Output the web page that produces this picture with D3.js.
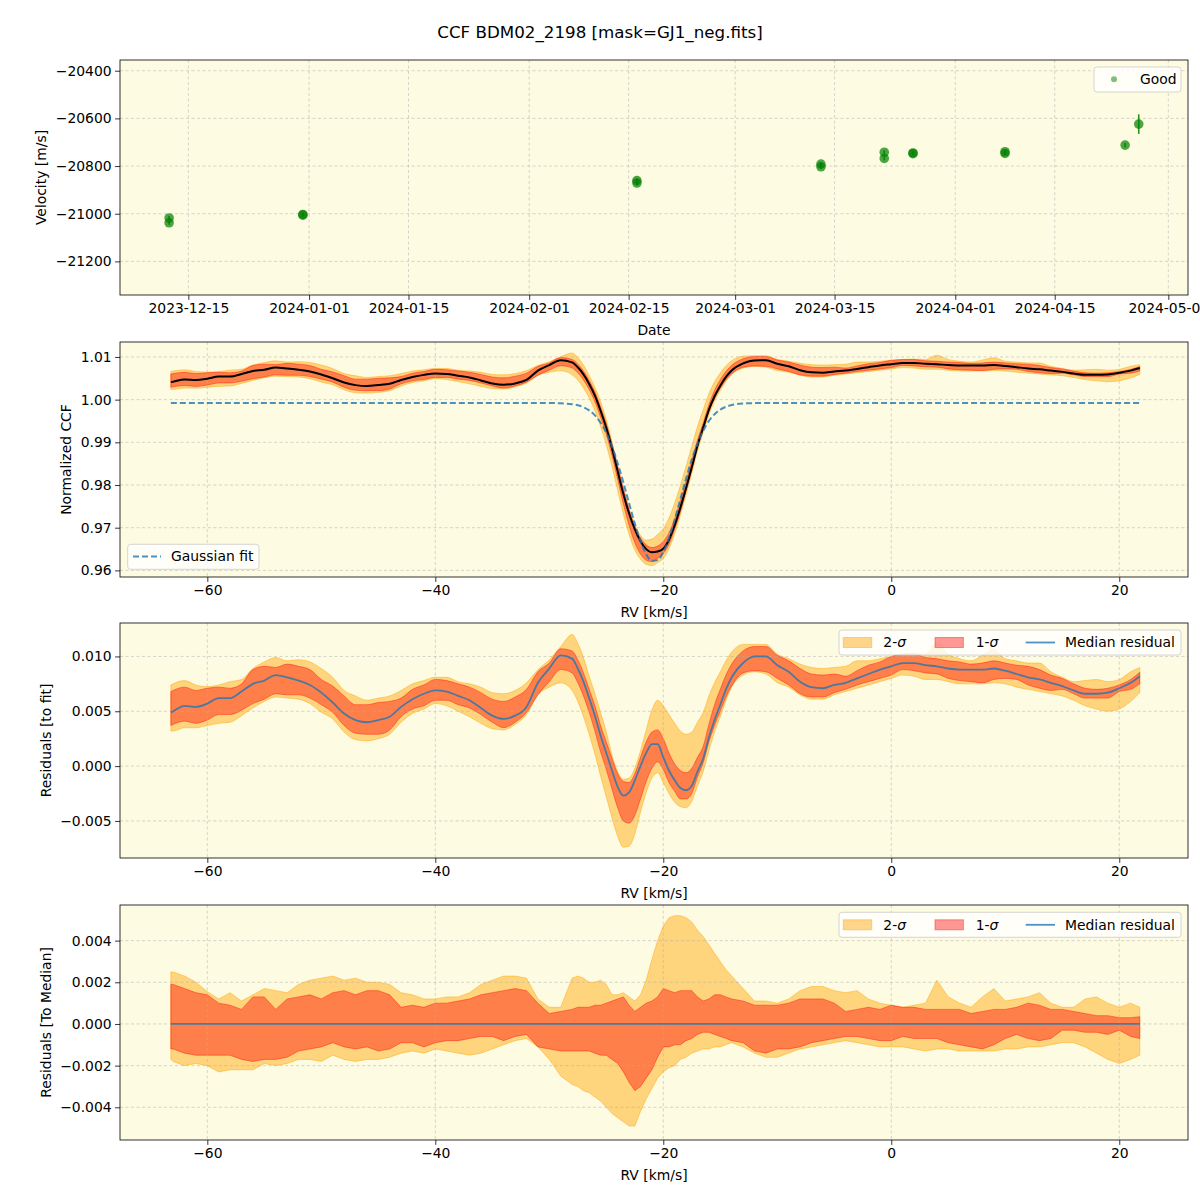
<!DOCTYPE html>
<html><head><meta charset="utf-8">
<script src="https://cdn.jsdelivr.net/npm/d3@7"></script>
<style>body{margin:0;background:#fff} svg{font-family:"DejaVu Sans",sans-serif}</style>
</head><body><svg id="c" width="1200" height="1200"></svg>
<script>
// ---------- DATA ----------
const titleText = "CCF BDM02_2198 [mask=GJ1_neg.fits]";
const obsDates = ["2023-12-12T07:00Z","2023-12-12T07:00Z","2023-12-31T03:00Z","2023-12-31T03:00Z",
  "2024-02-16T04:00Z","2024-02-16T04:00Z","2024-03-13T02:00Z","2024-03-13T02:00Z",
  "2024-03-22T00:00Z","2024-03-22T00:00Z","2024-03-26T01:00Z","2024-03-26T01:00Z",
  "2024-04-08T00:00Z","2024-04-08T00:00Z","2024-04-24T22:00Z","2024-04-26T20:00Z"];
const obsVel = [-21018,-21038,-21003,-21006,-20861,-20871,-20792,-20803,
  -20742,-20768,-20745,-20748,-20740,-20747,-20712,-20624];
const obsErr = [8,8,7,7,9,9,8,8,8,8,7,7,8,8,9,41];
const dateTicks = ["2023-12-15","2024-01-01","2024-01-15","2024-02-01","2024-02-15",
  "2024-03-01","2024-03-15","2024-04-01","2024-04-15","2024-05-01"];
const velTicks = [-21200,-21000,-20800,-20600,-20400];
const rvTicks = [-60,-40,-20,0,20];
const ccfTicks = [0.96,0.97,0.98,0.99,1.00,1.01];
const resTicks = [-0.005,0,0.005,0.010];
const medTicks = [-0.004,-0.002,0,0.002,0.004];

const rv = [-63.2,-63,-62,-61,-60,-59,-58,-57,-56,-55,-54,-53,-52,-51,-50,-49,-48,-47,-46,-45,-44,-43,-42,-41,-40,-39,-38,-37,-36,-35,-34,-33,-32,-31,-30,-29,-28,
  -27.5,-27,-26.5,-26,-25.5,-25,-24.5,-24,-23.5,-23,-22.5,-22,-21.5,-21,-20.5,-20,-19.5,-19,-18.5,-18,-17.5,-17,-16.5,-16,-15.5,-15,-14.5,-14,
  -13,-12,-11,-10,-9,-8,-7,-6,-5,-4,-3,-2,-1,0,1,2,3,4,5,6,7,8,9,10,11,12,13,14,15,16,17,18,19,20,21,21.8];

// Gaussian fit to the CCF
const gaussFit = [0.9992,0.9992,0.9992,0.9992,0.9992,0.9992,0.9992,0.9992,0.9992,0.9992,0.9992,0.9992,0.9992,0.9992,0.9992,0.9992,0.9992,0.9992,0.9992,0.9992,0.9992,0.9992,0.9992,0.9992,0.9992,0.9992,0.9992,0.9992,0.9992,0.9992,0.9992,0.9992,0.9992,0.9992,0.9992,0.99914,0.99892,
  0.99867,0.99822,0.99748,0.99632,0.9946,0.9922,0.98903,0.9851,0.98057,0.97572,0.97097,0.96682,0.96378,0.96224,0.96241,0.96428,0.96758,0.97189,0.9767,0.98152,0.98595,0.98972,0.99274,0.995,0.99659,0.99766,0.99833,0.99873,
  0.99908,0.99918,0.9992,0.9992,0.9992,0.9992,0.9992,0.9992,0.9992,0.9992,0.9992,0.9992,0.9992,0.9992,0.9992,0.9992,0.9992,0.9992,0.9992,0.9992,0.9992,0.9992,0.9992,0.9992,0.9992,0.9992,0.9992,0.9992,0.9992,0.9992,0.9992,0.9992,0.9992,0.9992,0.9992,0.9992];

// median residual (CCF - fit)
const medResid = [0.0049,0.0050,0.0055,0.0054,0.0057,0.0062,0.0062,0.0068,0.0075,0.0078,0.0083,0.0081,0.0078,0.0074,0.0067,0.0058,0.0048,0.0042,0.0040,0.0042,0.0045,0.0054,0.0061,0.0066,0.0069,0.0068,0.0064,0.0060,0.0053,0.0046,0.0043,0.0046,0.0054,0.0076,0.0089,0.0101,0.0098,
  0.0089,0.0077,0.0062,0.0046,0.0028,0.0012,-0.0004,-0.0019,-0.0027,-0.0024,-0.0013,0.0000,0.0012,0.0020,0.0020,0.0008,-0.0004,-0.0013,-0.0020,-0.0022,-0.0018,-0.0005,0.0007,0.0026,0.0042,0.0056,0.0070,0.0081,
  0.0094,0.0100,0.0100,0.0092,0.0086,0.0077,0.0072,0.0071,0.0074,0.0076,0.0080,0.0084,0.0088,0.0091,0.0094,0.0094,0.0092,0.0091,0.0089,0.0088,0.0088,0.0088,0.0089,0.0087,0.0084,0.0081,0.0079,0.0076,0.0073,0.0069,0.0066,0.0066,0.0067,0.0071,0.0076,0.0082];

// band edges relative to the median
const sig2Hi = [0.0025,0.0025,0.0023,0.0020,0.00155,0.0012,0.0015,0.0011,0.0014,0.0017,0.0016,0.0015,0.0019,0.0021,0.0022,0.0023,0.0021,0.0022,0.0020,0.0020,0.0019,0.0015,0.0014,0.0012,0.0012,0.0013,0.0013,0.0015,0.0019,0.0021,0.0023,0.0023,0.0022,0.0012,0.0008,0.0008,0.0022,
  0.0023,0.0022,0.0020,0.0020,0.0021,0.0019,0.0014,0.0014,0.0015,0.0013,0.0011,0.0014,0.0021,0.0031,0.0040,0.0047,0.0051,0.0052,0.0052,0.0051,0.0049,0.0045,0.0042,0.0038,0.0034,0.0030,0.0026,0.0023,
  0.0017,0.0011,0.0011,0.0010,0.0012,0.0016,0.0018,0.0018,0.0016,0.0015,0.0016,0.0012,0.0010,0.0009,0.0008,0.0009,0.0010,0.0021,0.0013,0.0010,0.0008,0.0013,0.0017,0.0011,0.0012,0.0013,0.0015,0.0010,0.0008,0.0008,0.0012,0.0013,0.0010,0.0008,0.0010,0.0008];
const sig1Hi = [0.0019,0.0019,0.0017,0.0015,0.0014,0.0010,0.0009,0.0007,0.0013,0.0013,0.0007,0.0012,0.0013,0.0014,0.0012,0.0015,0.0016,0.0014,0.0016,0.0016,0.0014,0.0008,0.0009,0.0008,0.0010,0.0010,0.0011,0.0012,0.0014,0.0015,0.0016,0.0017,0.0016,0.0010,0.0005,0.0006,0.0007,
  0.0008,0.0008,0.0008,0.0009,0.0009,0.0010,0.0011,0.0012,0.0013,0.0009,0.0006,0.0008,0.0010,0.0011,0.0013,0.0017,0.0016,0.0015,0.0016,0.0016,0.0016,0.0013,0.0011,0.0012,0.0014,0.0014,0.0013,0.0012,
  0.0011,0.0009,0.0009,0.0009,0.0010,0.0012,0.0012,0.0012,0.0010,0.0006,0.0007,0.0008,0.0007,0.0009,0.0008,0.0008,0.0007,0.0007,0.0007,0.0007,0.0005,0.0006,0.0007,0.0007,0.0008,0.0010,0.0009,0.0007,0.0007,0.0006,0.0005,0.0004,0.0004,0.0003,0.0003,0.00035];
const sig1Lo = [-0.0012,-0.0012,-0.0014,-0.0015,-0.0015,-0.0015,-0.0015,-0.0017,-0.0018,-0.0017,-0.0017,-0.0016,-0.0013,-0.0012,-0.0011,-0.0009,-0.0011,-0.0012,-0.0011,-0.0013,-0.0012,-0.0009,-0.0009,-0.0011,-0.0009,-0.0008,-0.0008,-0.0007,-0.0006,-0.0006,-0.0008,-0.0006,-0.0005,-0.0011,-0.0012,-0.0013,-0.0013,
  -0.0013,-0.0013,-0.0013,-0.0014,-0.0015,-0.0015,-0.0017,-0.0019,-0.0023,-0.0028,-0.0032,-0.0030,-0.0026,-0.0022,-0.0016,-0.0011,-0.0011,-0.0010,-0.0010,-0.0008,-0.0007,-0.0005,-0.0004,-0.0004,-0.0005,-0.0006,-0.0007,-0.0008,
  -0.0009,-0.0013,-0.0014,-0.0012,-0.0012,-0.0011,-0.0009,-0.0008,-0.0007,-0.0006,-0.0006,-0.0007,-0.0008,-0.0008,-0.0006,-0.0007,-0.0007,-0.0007,-0.0009,-0.0010,-0.0011,-0.0012,-0.0010,-0.0007,-0.0005,-0.0007,-0.0008,-0.0007,-0.0003,-0.0003,-0.0004,-0.0004,-0.0005,-0.0003,-0.0006,-0.0007];
const sig2Lo = [-0.0017,-0.0018,-0.0020,-0.0019,-0.0020,-0.0023,-0.0022,-0.0022,-0.0022,-0.0019,-0.0020,-0.0019,-0.0017,-0.0017,-0.0018,-0.0015,-0.0017,-0.0018,-0.0017,-0.0017,-0.0016,-0.0014,-0.0013,-0.0014,-0.0012,-0.0013,-0.0014,-0.0015,-0.0014,-0.0012,-0.0010,-0.0008,-0.0007,-0.0011,-0.0017,-0.0025,-0.0029,
  -0.0030,-0.0032,-0.0033,-0.0035,-0.0037,-0.0040,-0.0043,-0.0045,-0.0047,-0.0049,-0.0049,-0.0042,-0.0036,-0.0031,-0.0026,-0.0023,-0.0021,-0.0020,-0.0017,-0.0016,-0.0014,-0.0013,-0.0012,-0.0012,-0.0011,-0.0011,-0.0010,-0.0009,
  -0.0011,-0.0014,-0.0016,-0.0016,-0.0014,-0.0012,-0.0011,-0.0010,-0.0009,-0.0008,-0.0009,-0.0010,-0.0011,-0.0011,-0.0011,-0.0012,-0.0013,-0.0012,-0.0012,-0.0013,-0.0013,-0.0013,-0.0013,-0.0012,-0.0012,-0.0011,-0.0011,-0.0010,-0.0009,-0.0009,-0.0011,-0.0014,-0.0017,-0.0019,-0.0017,-0.0015];

// ---------- DRAW ----------
const svg = d3.select("#c");
const FS = 13.9, BG = "#fdfbe2", L = 120, R = 1188;
const panels = [{top:60,h:235},{top:342,h:235},{top:623,h:235},{top:905,h:235}];
const C2 = "#ffa500", C1 = "#ff0000", BLUE = "#1f77b4";

const rows = rv.map((v,i)=>({rv:v, fit:gaussFit[i], res:medResid[i], ccf:gaussFit[i]+medResid[i],
  a:sig2Lo[i], b:sig1Lo[i], c:sig1Hi[i], d:sig2Hi[i]}));

svg.append("text").attr("x",600).attr("y",32).attr("text-anchor","middle").attr("dy","0.35em")
  .attr("font-size",16.7).text(titleText);

function yS(dom,p){ return d3.scaleLinear().domain(dom).range([p.top+p.h,p.top]); }
const x1 = d3.scaleUtc().domain([new Date("2023-12-05T09:00Z"), new Date("2024-05-03T18:30Z")]).range([L,R]);
const x2 = d3.scaleLinear().domain([-67.66,26.03]).range([L,R]);
const y1 = yS([-21341,-20355],panels[0]);
const y2 = yS([0.95845,1.0135],panels[1]);
const y3 = yS([-0.00838,0.01305],panels[2]);
const y4 = yS([-0.00557,0.00571],panels[3]);

function makePanel(i, xs, xt, xf, ys, yt, yf, xlabel, ylabel, ylabX){
  const p = panels[i];
  const g = svg.append("g");
  g.append("rect").attr("x",L).attr("y",p.top).attr("width",R-L).attr("height",p.h).attr("fill",BG);
  const clipId = "clip"+i;
  svg.append("clipPath").attr("id",clipId).append("rect").attr("x",L).attr("y",p.top).attr("width",R-L).attr("height",p.h);
  const fills = g.append("g").attr("clip-path",`url(#${clipId})`);
  const grid = g.append("g");
  xt.forEach(t=>grid.append("line").attr("x1",xs(t)).attr("x2",xs(t)).attr("y1",p.top).attr("y2",p.top+p.h));
  yt.forEach(t=>grid.append("line").attr("y1",ys(t)).attr("y2",ys(t)).attr("x1",L).attr("x2",R));
  grid.selectAll("line").attr("stroke","#b0b0b0").attr("stroke-opacity",0.65).attr("stroke-width",0.8).attr("stroke-dasharray","3,2.5");
  const lines = g.append("g").attr("clip-path",`url(#${clipId})`);
  const ax = g.append("g").attr("transform",`translate(0,${p.top+p.h})`)
    .call(d3.axisBottom(xs).tickValues(xt).tickFormat(xf).tickSize(4.9).tickPadding(3.5));
  const ay = g.append("g").attr("transform",`translate(${L},0)`)
    .call(d3.axisLeft(ys).tickValues(yt).tickFormat(yf).tickSize(4.9).tickPadding(3.5));
  [ax,ay].forEach(a=>{a.select(".domain").remove();
    a.selectAll("text").attr("font-size",FS).attr("font-family","DejaVu Sans").attr("fill","#000");
    a.selectAll("line").attr("stroke","#000").attr("stroke-width",0.8);});
  g.append("rect").attr("x",L).attr("y",p.top).attr("width",R-L).attr("height",p.h)
    .attr("fill","none").attr("stroke","#000").attr("stroke-width",0.8);
  g.append("text").attr("x",(L+R)/2).attr("y",p.top+p.h+35).attr("dy","0.35em").attr("text-anchor","middle")
    .attr("font-size",FS).text(xlabel);
  g.append("text").attr("transform",`translate(${ylabX},${p.top+p.h/2}) rotate(-90)`).attr("dy","0.35em")
    .attr("text-anchor","middle").attr("font-size",FS).text(ylabel);
  return {g, fills, lines};
}

const fmtInt = d3.format("d");
// Panel 1
const P1 = makePanel(0, x1, dateTicks.map(s=>new Date(s+"T00:00:00Z")), d3.utcFormat("%Y-%m-%d"),
  y1, velTicks, fmtInt, "Date", "Velocity [m/s]", 41);
obsDates.forEach((d,i)=>{
  const xx = x1(new Date(d));
  P1.lines.append("line").attr("x1",xx).attr("x2",xx).attr("y1",y1(obsVel[i]-obsErr[i])).attr("y2",y1(obsVel[i]+obsErr[i]))
    .attr("stroke","green").attr("stroke-width",1.6).attr("stroke-opacity",0.85);
});
obsDates.forEach((d,i)=>{
  P1.lines.append("circle").attr("cx",x1(new Date(d))).attr("cy",y1(obsVel[i])).attr("r",4.8)
    .attr("fill","green").attr("fill-opacity",0.7);
});
// legend P1
P1.g.append("rect").attr("x",1094).attr("y",67).attr("width",87).attr("height",25).attr("rx",3)
  .attr("fill","#fff").attr("fill-opacity",0.8).attr("stroke","#ccc").attr("stroke-width",0.8);
P1.g.append("circle").attr("cx",1114).attr("cy",79.3).attr("r",3).attr("fill","green").attr("fill-opacity",0.5);
P1.g.append("text").attr("x",1140).attr("y",79.3).attr("dy","0.35em").attr("font-size",FS).text("Good");

// band helper
function bands(layer, ys, baseFn, curve){
  const a2 = d3.area().x(d=>x2(d.rv)).y0(d=>ys(baseFn(d)+d.a)).y1(d=>ys(baseFn(d)+d.d)).curve(curve);
  const a1 = d3.area().x(d=>x2(d.rv)).y0(d=>ys(baseFn(d)+d.b)).y1(d=>ys(baseFn(d)+d.c)).curve(curve);
  layer.append("path").attr("d",a2(rows)).attr("fill",C2).attr("fill-opacity",0.45)
    .attr("stroke",C2).attr("stroke-opacity",0.45).attr("stroke-width",1);
  layer.append("path").attr("d",a1(rows)).attr("fill",C1).attr("fill-opacity",0.4)
    .attr("stroke",C1).attr("stroke-opacity",0.4).attr("stroke-width",1);
}
const fmt2 = d3.format(".2f"), fmt3 = d3.format(".3f");

// Panel 2
const P2 = makePanel(1, x2, rvTicks, fmtInt, y2, ccfTicks, fmt2, "RV [km/s]", "Normalized CCF", 66);
bands(P2.fills, y2, d=>d.ccf, d3.curveMonotoneX);
P2.lines.append("path").attr("d", d3.line().x(d=>x2(d.rv)).y(d=>y2(d.ccf)).curve(d3.curveMonotoneX)(rows))
  .attr("fill","none").attr("stroke","#000").attr("stroke-width",2);
P2.lines.append("path").attr("d", d3.line().x(d=>x2(d.rv)).y(d=>y2(d.fit)).curve(d3.curveMonotoneX)(rows))
  .attr("fill","none").attr("stroke",BLUE).attr("stroke-opacity",0.8).attr("stroke-width",2).attr("stroke-dasharray","6,3");
P2.g.append("rect").attr("x",127.7).attr("y",544.3).attr("width",131.3).attr("height",25).attr("rx",3)
  .attr("fill","#fff").attr("fill-opacity",0.8).attr("stroke","#ccc").attr("stroke-width",0.8);
P2.g.append("line").attr("x1",133).attr("x2",161).attr("y1",556.5).attr("y2",556.5)
  .attr("stroke",BLUE).attr("stroke-opacity",0.8).attr("stroke-width",2).attr("stroke-dasharray","6,3");
P2.g.append("text").attr("x",171).attr("y",556.5).attr("dy","0.35em").attr("font-size",FS).text("Gaussian fit");

function sigmaLegend(g, top){
  const cy = top + 12.5;
  g.append("rect").attr("x",839).attr("y",top).attr("width",342).attr("height",25).attr("rx",3)
    .attr("fill","#fff").attr("fill-opacity",0.8).attr("stroke","#ccc").attr("stroke-width",0.8);
  g.append("rect").attr("x",843.3).attr("y",cy-5).attr("width",28.4).attr("height",10)
    .attr("fill",C2).attr("fill-opacity",0.45).attr("stroke",C2).attr("stroke-opacity",0.45);
  const t1 = g.append("text").attr("x",883.3).attr("y",cy).attr("dy","0.35em").attr("font-size",FS);
  t1.append("tspan").text("2-"); t1.append("tspan").attr("font-style","italic").text("σ");
  g.append("rect").attr("x",935).attr("y",cy-5).attr("width",28.4).attr("height",10)
    .attr("fill",C1).attr("fill-opacity",0.4).attr("stroke",C1).attr("stroke-opacity",0.4);
  const t2 = g.append("text").attr("x",975.7).attr("y",cy).attr("dy","0.35em").attr("font-size",FS);
  t2.append("tspan").text("1-"); t2.append("tspan").attr("font-style","italic").text("σ");
  g.append("line").attr("x1",1025.7).attr("x2",1055).attr("y1",cy).attr("y2",cy)
    .attr("stroke",BLUE).attr("stroke-opacity",0.8).attr("stroke-width",1.8);
  g.append("text").attr("x",1065).attr("y",cy).attr("dy","0.35em").attr("font-size",FS).text("Median residual");
}

// Panel 3
const P3 = makePanel(2, x2, rvTicks, fmtInt, y3, resTicks, fmt3, "RV [km/s]", "Residuals [to fit]", 46);
bands(P3.fills, y3, d=>d.res, d3.curveMonotoneX);
P3.lines.append("path").attr("d", d3.line().x(d=>x2(d.rv)).y(d=>y3(d.res)).curve(d3.curveMonotoneX)(rows))
  .attr("fill","none").attr("stroke",BLUE).attr("stroke-opacity",0.8).attr("stroke-width",1.8);
sigmaLegend(P3.g, 630);

// Panel 4
const P4 = makePanel(3, x2, rvTicks, fmtInt, y4, medTicks, fmt3, "RV [km/s]", "Residuals [To Median]", 46);
bands(P4.fills, y4, d=>0, d3.curveLinear);
P4.lines.append("path").attr("d", d3.line().x(d=>x2(d.rv)).y(d=>y4(0))(rows))
  .attr("fill","none").attr("stroke",BLUE).attr("stroke-opacity",0.8).attr("stroke-width",1.8);
sigmaLegend(P4.g, 912.3);
</script></body></html>
